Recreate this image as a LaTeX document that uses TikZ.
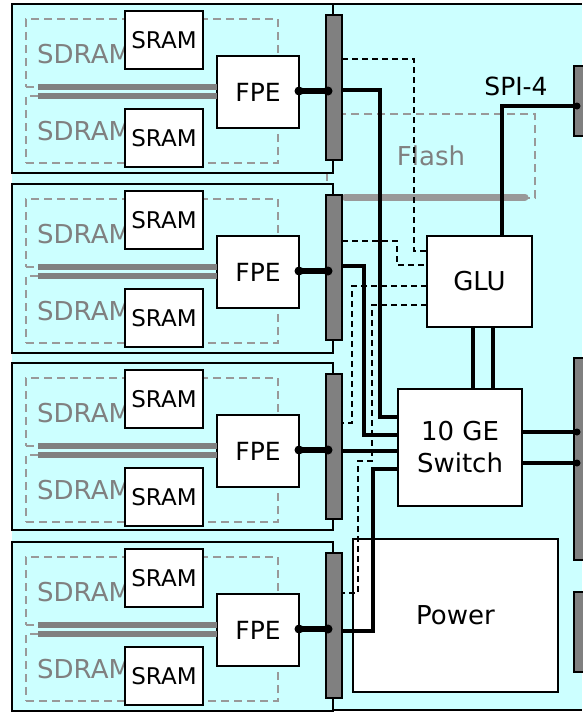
\documentclass[tikz,border=0pt]{standalone}
\usepackage{fontspec}
\setmainfont{DejaVu Sans}
\usetikzlibrary{calc}
\definecolor{boardbg}{RGB}{204,255,255}
\definecolor{conngray}{RGB}{128,128,128}
\definecolor{dashgray}{RGB}{153,153,153}
\definecolor{textgray}{RGB}{128,128,128}
\tikzset{
  cardbox/.style={draw=black, line width=2pt, fill=boardbg, anchor=north west, minimum width=321pt, inner sep=0pt, outer sep=0pt},
  sdrambox/.style={draw=dashgray, line width=2pt, dash pattern=on 8pt off 5pt, anchor=north west, minimum width=252pt, inner sep=0pt, outer sep=0pt},
  sdramtext/.style={text=textgray, anchor=base west, inner sep=0pt, font=\fontsize{26}{30}\selectfont},
  srambox/.style={draw=black, line width=1.5pt, fill=white, minimum width=78pt, minimum height=58pt, inner sep=0pt, outer sep=0pt, font=\fontsize{23}{28}\selectfont},
  fpebox/.style={draw=black, line width=1.5pt, fill=white, minimum width=82pt, minimum height=72pt, inner sep=0pt, outer sep=0pt, font=\fontsize{25}{30}\selectfont},
  bigbox/.style={draw=black, line width=1.5pt, fill=white, inner sep=0pt, outer sep=0pt, align=center, font=\fontsize{26}{32}\selectfont},
  connbar/.style={draw=black, line width=1.5pt, fill=conngray, anchor=north west, minimum width=16pt, inner sep=0pt, outer sep=0pt},
  flashbox/.style={draw=dashgray, line width=2pt, dash pattern=on 8pt off 5pt, minimum width=208pt, minimum height=84pt, inner sep=0pt, outer sep=0pt, text=textgray, font=\fontsize{26}{30}\selectfont},
  flashbus/.style={draw=dashgray, line width=7pt, line cap=round},
  bus/.style={draw=conngray, line width=6pt},
  fpeline/.style={draw=black, line width=6pt},
  wire/.style={draw=black, line width=4pt},
  dwire/.style={draw=black, line width=2pt, dash pattern=on 6pt off 4pt},
  lbl/.style={inner sep=0pt, font=\fontsize{25}{30}\selectfont}
}
\begin{document}
\begin{tikzpicture}[x=1pt,y=-1pt]
\useasboundingbox (0,0) rectangle (582,712);
\fill[white] (0,0) rectangle (582,712);
\fill[boardbg] (12,4) rectangle (582,710);
\draw[line width=2pt] (333,4) -- (582,4);
\draw[line width=2pt] (333,710) -- (582,710);
% flash
\node[flashbox] (flash) at (431,156) {Flash};
\draw[flashbus] ($(flash.south west)+(18,-1)$) -- ($(flash.south east)+(-10,-1)$);
% cards
\foreach \i/\T/\H in {1/4/169,2/184/169,3/363/167,4/542/169}{
  \node[cardbox, minimum height=\H pt] (card\i) at (12,\T) {};
  \node[sdrambox, minimum height=68pt] (sdu\i) at (26,\T+15) {};
  \node[sdrambox, minimum height=67pt] (sdl\i) at (26,\T+92) {};
  \node[sdramtext] (sdtu\i) at (37,\T+59) {SDRAM};
  \node[sdramtext] (sdtl\i) at (37,\T+136) {SDRAM};
  \node[srambox] (sru\i) at (164,\T+36) {SRAM};
  \node[srambox] (srl\i) at (164,\T+134) {SRAM};
  \node[fpebox] (fpe\i) at (258,\T+88) {FPE};
  \draw[bus] (38,\T+83) -- (fpe\i.west |- 0,\T+83);
  \draw[bus] (38,\T+92) -- (fpe\i.west |- 0,\T+92);
  \node[connbar, minimum height=145pt] (conn\i) at (326,\T+11) {};
  \coordinate (fa\i) at (fpe\i.east |- 0,\T+87);
  \coordinate (fb\i) at ($(conn\i.west |- 0,\T+87)+(2,0)$);
  \draw[fpeline] (fa\i) -- (fb\i);
  \fill (fa\i) circle (4.5pt);
  \fill (fb\i) circle (4.5pt);
}
% main board boxes
\node[bigbox, minimum width=105pt, minimum height=91pt] (glu) at (479.5,281.5) {GLU};
\node[bigbox, minimum width=124pt, minimum height=117pt] (sw) at (460,447.5) {10 GE\\Switch};
\node[bigbox, minimum width=205pt, minimum height=153pt] (pwr) at (455.5,615.5) {Power};
\node[connbar, minimum height=70pt] (rc1) at (574,66) {};
\node[connbar, minimum height=202pt] (rc2) at (574,358) {};
\node[connbar, minimum height=80pt] (rc3) at (574,592) {};
\node[lbl] (spi) at (516,86) {SPI-4};
% wires
\draw[wire] (conn1.east |- 0,90) -| (380,417) -- (sw.west |- 0,417);
\draw[dwire] (conn1.east |- 0,59) -| (414,251) -- (glu.west |- 0,251);
\draw[dwire] (conn2.east |- 0,241) -| (397,265) -- (glu.west |- 0,265);
\draw[wire] (conn2.east |- 0,266) -| (364,435) -- (sw.west |- 0,435);
\draw[dwire] (glu.west |- 0,286) -| (352,423) -- (conn3.east |- 0,423);
\draw[dwire] (glu.west |- 0,305) -| (372,461) -| (358,593) -- (conn4.east |- 0,593);
\draw[wire] (conn3.east |- 0,451) -- (sw.west |- 0,451);
\draw[wire] (sw.west |- 0,469) -| (373,631) -- (conn4.east |- 0,631);
\draw[line width=4.5pt] (glu.south -| 473,0) -- (sw.north -| 473,0);
\draw[line width=4.5pt] (glu.south -| 493,0) -- (sw.north -| 493,0);
\coordinate (spiend) at ($(rc1.west |- 0,106)+(3,0)$);
\draw[wire] (glu.north -| 502,0) |- (spiend);
\fill (spiend) circle (3.5pt);
\coordinate (swa) at ($(rc2.west |- 0,432)+(3,0)$);
\coordinate (swb) at ($(rc2.west |- 0,463)+(3,0)$);
\draw[wire] (sw.east |- 0,432) -- (swa);
\draw[wire] (sw.east |- 0,463) -- (swb);
\fill (swa) circle (3.5pt);
\fill (swb) circle (3.5pt);
\end{tikzpicture}
\end{document}
